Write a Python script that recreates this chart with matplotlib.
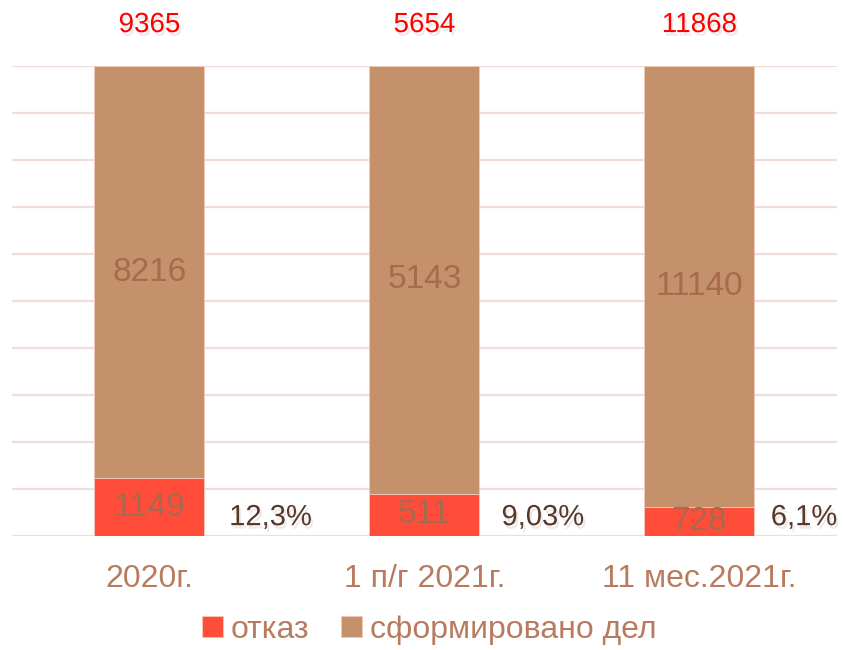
import matplotlib.pyplot as plt
import matplotlib.patheffects as pe
import numpy as np

plt.rcParams['font.family'] = ['Liberation Sans', 'DejaVu Sans']

# ================= DATA =================
categories = ['2020г.', '1 п/г 2021г.', '11 мес.2021г.']
refused = [1149, 511, 728]
formed = [8216, 5143, 11140]
totals = [9365, 5654, 11868]
pct_labels = ['12,3%', '9,03%', '6,1%']

# ================= STYLE =================
c_red = '#FF4D3A'
c_brown = '#C4916A'
c_grid = '#EEDFD9'
c_tick = '#B97B5F'
c_inner = '#A8694F'
c_pct = '#5A3726'

refused = np.array(refused, dtype=float)
formed = np.array(formed, dtype=float)
tot = refused + formed
share_r = refused / tot * 100
share_f = formed / tot * 100

fig = plt.figure(figsize=(8.45, 6.5), dpi=100)
ax = fig.add_axes([0.0142, 0.1754, 0.9763, 0.7231])

x = np.arange(len(categories))
w = 0.40
ax.bar(x, share_r, w, color=c_red, edgecolor='#F2C9B8', linewidth=0.6,
       label='отказ', zorder=3)
ax.bar(x, share_f, w, bottom=share_r, color=c_brown, edgecolor='#F2C9B8',
       linewidth=0.6, label='сформировано дел', zorder=3)

ax.set_xlim(-0.5, 2.5)
ax.set_ylim(0, 100)
ax.set_yticks(np.arange(0, 101, 10))
ax.yaxis.grid(True, color=c_grid, lw=1.6, zorder=0)
ax.tick_params(axis='y', left=False, labelleft=False)
ax.tick_params(axis='x', bottom=False, labelsize=23, labelcolor=c_tick, pad=17)
ax.set_xticks(x)
ax.set_xticklabels(categories)
for s in ax.spines.values():
    s.set_visible(False)

shadow = [pe.SimplePatchShadow(offset=(1.5, -2.5), shadow_rgbFace='#999999',
                               alpha=0.2), pe.Normal()]

# inner labels
for i in range(len(x)):
    ax.text(x[i], share_r[i] / 2, f'{int(refused[i])}', ha='center',
            va='center', fontsize=24, color=c_inner, zorder=4)
    ax.text(x[i], share_r[i] + share_f[i] / 2, f'{int(formed[i])}',
            ha='center', va='center', fontsize=24, color=c_inner, zorder=4)

# percentages next to bars
pct_dx = [0.44, 0.43, 0.38]
for i in range(len(x)):
    ax.text(x[i] + pct_dx[i], 4, pct_labels[i], ha='center', va='center',
            fontsize=21, color=c_pct, path_effects=shadow, zorder=4)

# totals above bars
for i in range(len(x)):
    ax.text(x[i], 108.7, f'{totals[i]}', ha='center', va='center',
            fontsize=20, color='#FF0000', path_effects=shadow,
            clip_on=False)

leg = fig.legend(loc='lower center', bbox_to_anchor=(0.508, -0.036), ncol=2,
                 frameon=False, fontsize=23, handlelength=0.65,
                 handleheight=0.65, handletextpad=0.25, columnspacing=1.0)
for t in leg.get_texts():
    t.set_color(c_tick)

fig.savefig('out.png', dpi=100)
